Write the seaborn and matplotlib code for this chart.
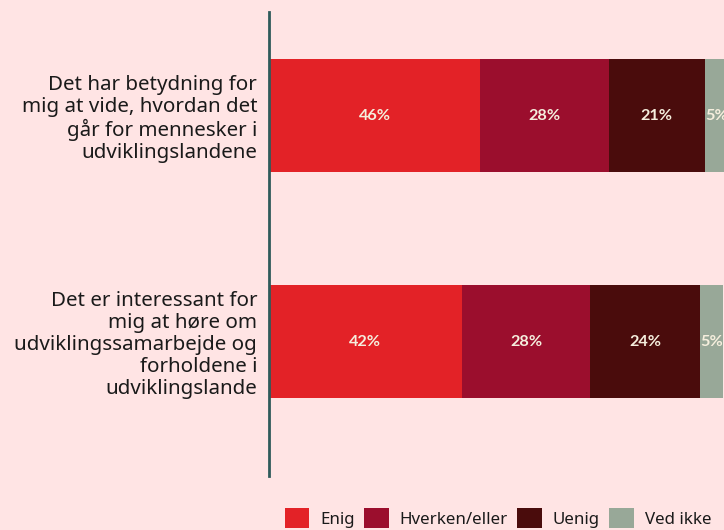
import matplotlib
matplotlib.use("Agg")
import matplotlib.pyplot as plt
import seaborn as sns
import pandas as pd
import numpy as np
from matplotlib.patches import Patch

categories = [
    "Det har betydning for\nmig at vide, hvordan det\ngår for mennesker i\nudviklingslandene",
    "Det er interessant for\nmig at høre om\nudviklingssamarbejde og\nforholdene i\nudviklingslande",
]
series_names = ["Enig", "Hverken/eller", "Uenig", "Ved ikke"]
enig = [46, 42]
hverken = [28, 28]
uenig = [21, 24]
ved_ikke = [5, 5]

colors = ["#E32227", "#9B0E2D", "#4A0C0C", "#98A898"]
bg = "#FFE4E4"

sns.set_theme(style="white")
plt.rcParams["font.family"] = ["Noto Sans", "DejaVu Sans"]

fig = plt.figure(figsize=(7.24, 5.30), dpi=100, facecolor=bg)
ax = fig.add_axes([269 / 724, 1 - 476 / 530, 459 / 724, 464 / 530])
ax.set_facecolor(bg)

values = [enig, hverken, uenig, ved_ikke]
cum = np.cumsum(np.array(values), axis=0)

# Draw cumulative totals from largest to smallest so segments stack
for i in range(len(series_names) - 1, -1, -1):
    df = pd.DataFrame({"cat": categories, "val": cum[i]})
    sns.barplot(data=df, x="val", y="cat", orient="h", color=colors[i],
                width=0.5, ax=ax, saturation=1, linewidth=0, errorbar=None)

# Segment labels
for i, vals in enumerate(values):
    for j, v in enumerate(vals):
        start = cum[i][j] - v
        ax.text(start + v / 2, j, f"{v}%", ha="center", va="center",
                color="#F5EEDD", fontsize=11.7, fontweight="bold",
                family=["Lato", "DejaVu Sans"])

ax.set_xlim(0, 100)
ax.set_ylim(1.595, -0.458)
ax.set_xlabel("")
ax.set_ylabel("")
ax.set_xticks([])
ax.tick_params(axis="y", length=0, pad=8.5, labelsize=14.8, labelcolor="#1a1a1a")
for lbl in ax.get_yticklabels():
    lbl.set_multialignment("right")
    lbl.set_linespacing(1.12)

for s in ["top", "right", "bottom"]:
    ax.spines[s].set_visible(False)
ax.spines["left"].set_color("#2F5A5A")
ax.spines["left"].set_linewidth(2)

handles = [Patch(facecolor=c, edgecolor="none", label=n) for c, n in zip(colors, series_names)]
fig.legend(handles=handles, loc="upper center", bbox_to_anchor=(498 / 724, 1 - 493 / 530),
           ncol=4, frameon=False, fontsize=12.2, handlelength=1.45, handleheight=1.4,
           handletextpad=0.65, columnspacing=0.55, labelcolor="#1a1a1a")

fig.savefig("out.png", dpi=100, facecolor=bg)
